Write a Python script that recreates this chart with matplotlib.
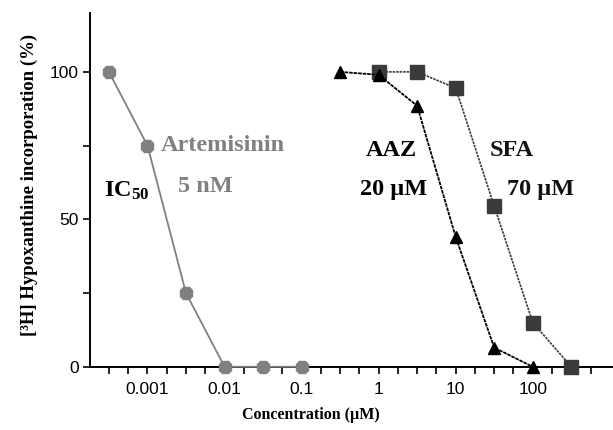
import numpy as np
import matplotlib
matplotlib.use("Agg")
import matplotlib.pyplot as plt
from matplotlib.ticker import FixedLocator, NullFormatter

# Concentrations (µM) and % [3H] hypoxanthine incorporation
art_conc = [0.000316, 0.001, 0.00316, 0.01, 0.0316, 0.1]
art_resp = [100, 75, 25, 0, 0, 0]

aaz_conc = [0.316, 1, 3.16, 10, 31.6, 100]
aaz_resp = [100, 99, 88.5, 44, 6.5, 0]

sfa_conc = [1, 3.16, 10, 31.6, 100, 316]
sfa_resp = [100, 100, 94.5, 54.5, 15, 0]

x_ticks = [0.001, 0.01, 0.1, 1, 10, 100]
x_tick_labels = ["0.001", "0.01", "0.1", "1", "10", "100"]
y_ticks = [0, 50, 100]

GRAY = "#808080"
DARK = "#3a3a3a"
SERIF = "Liberation Serif"

plt.rcParams["mathtext.fontset"] = "custom"
plt.rcParams["mathtext.bf"] = "Liberation Serif:bold"
plt.rcParams["mathtext.rm"] = "Liberation Serif"

fig = plt.figure(figsize=(6.13, 4.30), dpi=100)
ax = fig.add_axes([0.147, 0.147, 0.853, 0.823])

ax.plot(art_conc, art_resp, color=GRAY, lw=1.3, marker="8", ms=10,
        mfc=GRAY, mec=GRAY, clip_on=False, zorder=3)
ax.plot(sfa_conc, sfa_resp, color=DARK, lw=1.2, ls=(0, (1.5, 0.6)), marker="s", ms=10,
        mfc=DARK, mec=DARK, clip_on=False, zorder=3)
ax.plot(aaz_conc, aaz_resp, color="black", lw=1.3, ls=(0, (2, 0.5)), marker="^", ms=9,
        mfc="black", mec="black", clip_on=False, zorder=4)

ax.set_xscale("log")
ax.set_xlim(1.8e-4, 1100)
ax.set_ylim(0, 120)

ax.xaxis.set_major_locator(FixedLocator(x_ticks))
ax.set_xticklabels(x_tick_labels)
minor = [10 ** e for e in np.arange(-3.75, 3.0, 0.25)]
ax.xaxis.set_minor_locator(FixedLocator(minor))
ax.xaxis.set_minor_formatter(NullFormatter())
ax.set_yticks(y_ticks)
ax.yaxis.set_minor_locator(FixedLocator([25, 75]))

ax.tick_params(which="both", direction="out", length=5, width=1.2, labelsize=12.5)
ax.tick_params(axis="x", pad=6)
ax.tick_params(axis="y", pad=3)
for lab in ax.get_xticklabels() + ax.get_yticklabels():
    lab.set_fontfamily("Liberation Sans")

for side in ["top", "right"]:
    ax.spines[side].set_visible(False)
for side in ["left", "bottom"]:
    ax.spines[side].set_linewidth(1.4)

ax.set_xlabel("Concentration (µM)", fontfamily=SERIF, fontweight="bold", fontsize=11.5)
ax.xaxis.set_label_coords(0.423, -0.115)
ax.set_ylabel("[³H] Hypoxanthine incorporation (%)", fontfamily=SERIF,
              fontweight="bold", fontsize=13.5)
ax.yaxis.set_label_coords(-0.10, 0.515)

tk = dict(fontfamily=SERIF, fontweight="bold", fontsize=17.5, va="center", ha="left")
ax.text(0.00148, 75, "Artemisinin", color=GRAY, **tk)
ax.text(0.00027, 59.5, r"$\mathbf{IC_{50}}$", color="black", **tk)
ax.text(0.0025, 61, "5 nM", color=GRAY, **tk)
ax.text(0.68, 73.5, "AAZ", color="black", **tk)
ax.text(0.58, 60, "20 µM", color="black", **tk)
ax.text(28, 73.5, "SFA", color="#111111", **tk)
ax.text(47, 60, "70 µM", color="#111111", **tk)

fig.savefig("out.png", dpi=100)
